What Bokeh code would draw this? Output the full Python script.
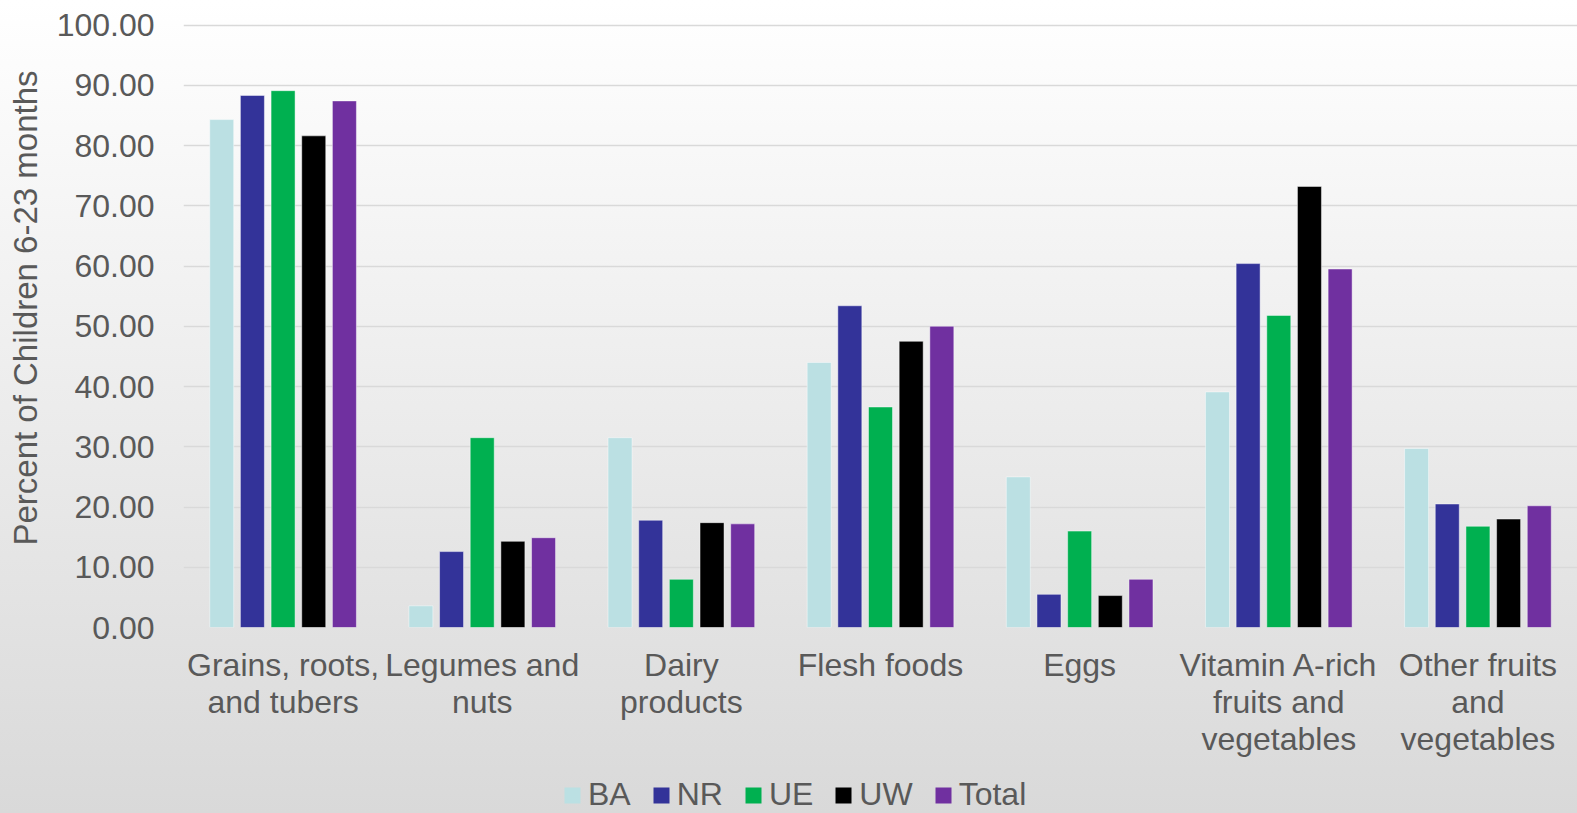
import math
from bokeh.plotting import figure
from bokeh.layouts import column, row
from bokeh.models import (FactorRange, Range1d, FixedTicker, NumeralTickFormatter,
                          Legend, LegendItem, Label)
from bokeh.transform import dodge
from bokeh.embed import file_html
from bokeh.resources import INLINE

categories = ["Grains, roots,\nand tubers", "Legumes and\nnuts", "Dairy\nproducts",
              "Flesh foods", "Eggs", "Vitamin A-rich\nfruits and\nvegetables",
              "Other fruits\nand\nvegetables"]
series_names = ["BA", "NR", "UE", "UW", "Total"]
BA = [84.3, 3.6, 31.5, 44.0, 25.0, 39.1, 29.7]
NR = [88.3, 12.6, 17.8, 53.4, 5.5, 60.4, 20.5]
UE = [89.1, 31.5, 8.0, 36.6, 16.0, 51.8, 16.8]
UW = [81.6, 14.3, 17.4, 47.5, 5.3, 73.2, 18.0]
Total = [87.4, 14.9, 17.2, 50.0, 8.0, 59.5, 20.2]
y_ticks = [0, 10, 20, 30, 40, 50, 60, 70, 80, 90, 100]
y_title = "Percent of Children 6-23 months"

colors = ["#BBE0E3", "#333399", "#00B050", "#000000", "#7030A0"]
offsets = [-0.308, -0.154, 0.0, 0.154, 0.308]
FONT = "Liberation Sans"
TXT = "#595959"


def clear(fig):
    fig.background_fill_color = None
    fig.border_fill_color = None
    fig.outline_line_color = None


data = dict(cat=categories, BA=BA, NR=NR, UE=UE, UW=UW, Total=Total)

# --- y-axis title strip ---
tfig = figure(width=50, height=760, x_range=Range1d(0, 50), y_range=Range1d(0, 760),
              min_border=0, x_axis_location=None, y_axis_location=None,
              toolbar_location=None, output_backend="svg")
clear(tfig)
tfig.grid.visible = False
tfig.add_layout(Label(x=25, y=402, text=y_title, angle=math.pi / 2,
                      text_align="center", text_baseline="middle",
                      text_font=FONT, text_font_size="33px", text_color=TXT))

# --- main chart ---
p = figure(x_range=FactorRange(factors=categories, range_padding=0),
           y_range=Range1d(0, 100.25),
           width=1527, height=760, output_backend="svg", toolbar_location=None,
           min_border_left=133, min_border_right=0, min_border_top=23,
           min_border_bottom=132)
clear(p)

for name, col, off in zip(series_names, colors, offsets):
    p.vbar(x=dodge("cat", off, range=p.x_range), top=name, width=0.1205,
           source=data, fill_color=col, line_color="white", line_alpha=0.45,
           line_width=1)

p.xgrid.grid_line_color = None
p.ygrid.grid_line_color = "#D9D9D9"
p.ygrid.grid_line_width = 1.5

p.yaxis.ticker = FixedTicker(ticks=y_ticks)
p.yaxis.formatter = NumeralTickFormatter(format="0.00")
for ax in (p.xaxis[0], p.yaxis[0]):
    ax.axis_line_color = None
    ax.major_tick_line_color = None
    ax.minor_tick_line_color = None
    ax.major_tick_out = 0
    ax.major_tick_in = 0
    ax.minor_tick_out = 0
    ax.minor_tick_in = 0
    ax.major_label_text_font = FONT
    ax.major_label_text_font_size = "32px"
    ax.major_label_text_color = TXT
p.yaxis.major_label_standoff = 29
p.xaxis.major_label_standoff = 19
p.xaxis.major_label_orientation = "horizontal"
p.xaxis.major_label_text_line_height = 1.04

# --- legend strip (swatch renderers use the same data, kept out of view) ---
lfig = figure(width=1577, height=53, min_border=0, x_axis_location=None,
              y_axis_location=None, toolbar_location=None, output_backend="svg",
              x_range=FactorRange(factors=categories, range_padding=0),
              y_range=Range1d(1000, 1100))
clear(lfig)
lfig.grid.visible = False
items = []
for name, col in zip(series_names, colors):
    r = lfig.vbar(x="cat", top=name, width=0.1205, source=data, fill_color=col,
                  line_color=None)
    items.append(LegendItem(label=name, renderers=[r]))
legend = Legend(items=items, orientation="horizontal", location=(562, 0),
                glyph_width=20, glyph_height=20, label_standoff=6, spacing=20,
                padding=0, margin=0, border_line_color=None,
                background_fill_alpha=0, label_text_font=FONT,
                label_text_font_size="32px", label_text_color=TXT)
lfig.add_layout(legend, "center")

layout = column(row(tfig, p, spacing=0), lfig, spacing=0, width=1577, height=813)
layout.styles = {"background": "linear-gradient(to bottom, #FFFFFF 0%, #D9D9D9 100%)"}

open("out.html", "w").write(file_html(layout, INLINE))
